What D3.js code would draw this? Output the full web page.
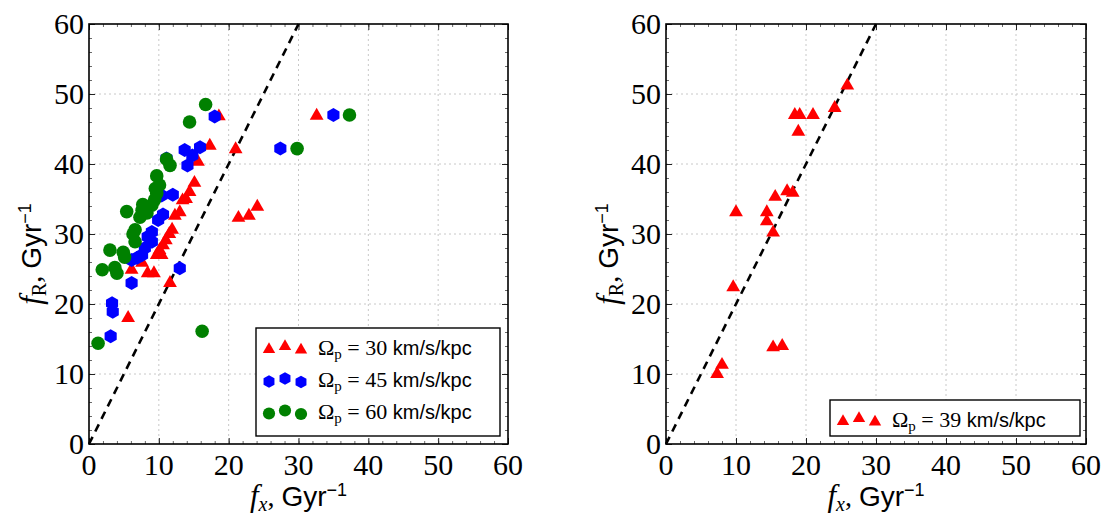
<!DOCTYPE html>
<html>
<head>
<meta charset="utf-8">
<script src="https://cdn.jsdelivr.net/npm/d3@7"></script>
<style>
  body { margin: 0; background: #fff; }
  svg { display: block; }
  .serif { font-family: "Liberation Serif", "DejaVu Serif", serif; }
  .sans { font-family: "Liberation Sans", "DejaVu Sans", sans-serif; }
</style>
</head>
<body>
<div id="root"></div>
<script>
// left panel: three pattern speeds, [f_x, f_R]
const omega30 = [
  [32.6, 46.9], [18.6, 46.8], [21.0, 42.1], [17.3, 42.6], [15.6, 40.3],
  [21.4, 32.3], [22.9, 32.6], [24.1, 33.9], [15.1, 37.3], [14.4, 36.0],
  [13.4, 34.8], [13.9, 35.0], [13.0, 33.1], [12.3, 32.6], [11.9, 30.6],
  [11.5, 30.0], [11.0, 29.1], [10.6, 28.4], [10.1, 27.7], [9.7, 27.0],
  [10.4, 27.0], [7.6, 25.9], [6.1, 24.9], [8.4, 24.4], [9.3, 24.4],
  [11.6, 23.0], [5.6, 18.0]
];
const omega45 = [
  [35.0, 47.0], [18.0, 46.8], [27.4, 42.2], [15.9, 42.4], [13.7, 42.0],
  [14.8, 41.2], [14.1, 39.8], [11.1, 40.8], [12.0, 35.6], [10.4, 35.5],
  [10.6, 32.8], [9.9, 32.0], [9.0, 30.3], [8.4, 29.6], [9.0, 28.9],
  [8.0, 28.0], [7.6, 27.0], [6.9, 26.6], [6.1, 26.3], [13.0, 25.1],
  [6.1, 23.0], [3.3, 20.1], [3.4, 18.9], [3.1, 15.4]
];
const omega60 = [
  [37.3, 47.0], [29.8, 42.2], [16.7, 48.5], [14.4, 46.0], [11.1, 40.7],
  [11.6, 39.8], [9.7, 38.3], [10.1, 37.0], [9.5, 36.5], [9.7, 35.8],
  [9.4, 34.9], [9.0, 34.1], [7.7, 34.2], [7.6, 33.4], [5.4, 33.2],
  [8.3, 33.0], [7.3, 32.4], [6.6, 30.6], [6.3, 30.0], [6.6, 28.9],
  [3.0, 27.7], [4.9, 27.4], [5.1, 26.7], [1.9, 24.9], [3.7, 25.2],
  [4.0, 24.4], [16.2, 16.1], [1.3, 14.4]
];
// right panel
const omega39 = [
  [25.9, 51.2], [24.1, 48.0], [18.4, 47.0], [19.1, 47.0], [21.0, 47.0],
  [18.9, 44.6], [10.0, 33.1], [14.4, 33.1], [14.4, 31.8], [15.3, 30.2],
  [15.6, 35.3], [17.3, 36.1], [18.1, 35.9], [9.6, 22.4], [8.0, 11.3],
  [7.3, 10.0], [15.3, 13.8], [16.6, 14.0]
];
// f_R = 2 f_x reference line
const refLine = [[0, 0], [30, 60]];
const ticks = [0, 10, 20, 30, 40, 50, 60];
const minorTicks = d3.range(0, 61, 2);

const w = 1104;
const h = 524;
const plotTop = 24, plotBottom = 444;

const svg = d3.select("#root")
  .append("svg")
  .attr("width", w)
  .attr("height", h);

svg.append("rect").attr("width", w).attr("height", h).attr("fill", "#fff");

function marker(kind) {
  if (kind === "tri") return d3.symbol().type(d3.symbolTriangle).size(82)();
  if (kind === "circ") return d3.symbol().type(d3.symbolCircle).size(145)();
  // hexagon, pointy top
  const r = 7;
  const pts = d3.range(6).map(i => {
    const a = Math.PI / 3 * i - Math.PI / 2;
    return [r * Math.cos(a), r * Math.sin(a)];
  });
  return "M" + pts.join("L") + "Z";
}

function addTitle(t, sub, subItalic) {
  t.append("tspan").attr("class", "serif").attr("font-style", "italic").attr("font-size", 31).text("f");
  t.append("tspan").attr("class", "serif").attr("font-style", subItalic ? "italic" : "normal")
    .attr("font-size", 20).attr("dy", 5).text(sub);
  t.append("tspan").attr("class", "serif").attr("dy", -5).text(", ");
  t.append("tspan").attr("class", "sans").text("Gyr");
  t.append("tspan").attr("class", "sans")
    .attr("font-size", 18).attr("dy", -10).text("\u22121");
}

function drawPanel(left, right, series, legend) {
  const x = d3.scaleLinear().domain([0, 60]).range([left, right]);
  const y = d3.scaleLinear().domain([0, 60]).range([plotBottom, plotTop]);
  const g = svg.append("g");

  // grid
  g.selectAll(".gx").data(ticks.slice(1, -1)).enter().append("line")
    .attr("x1", d => x(d)).attr("x2", d => x(d))
    .attr("y1", plotTop).attr("y2", plotBottom)
    .attr("stroke", "#c8c8c8").attr("stroke-dasharray", "2,3");
  g.selectAll(".gy").data(ticks.slice(1, -1)).enter().append("line")
    .attr("y1", d => y(d)).attr("y2", d => y(d))
    .attr("x1", left).attr("x2", right)
    .attr("stroke", "#c8c8c8").attr("stroke-dasharray", "2,3");

  // ticks on all four sides, pointing in
  const sides = (scaleX, scaleY, vals, len) => [
    [d3.axisBottom(scaleX), `translate(0,${plotBottom})`],
    [d3.axisTop(scaleX), `translate(0,${plotTop})`],
    [d3.axisLeft(scaleY), `translate(${left},0)`],
    [d3.axisRight(scaleY), `translate(${right},0)`]
  ].map(([ax, tr]) => [ax.tickValues(vals).tickSize(-len).tickFormat(""), tr]);

  sides(x, y, minorTicks, 3).concat(sides(x, y, ticks, 6)).forEach(([ax, tr], i) => {
    const a = g.append("g").attr("transform", tr).call(ax);
    a.select(".domain").remove();
    a.selectAll("line").attr("stroke", i < 4 ? "#444" : "#222").attr("stroke-width", i < 4 ? 0.8 : 1);
  });

  // tick labels
  g.selectAll(".xl").data(ticks).enter().append("text")
    .attr("class", "serif")
    .attr("x", d => x(d)).attr("y", plotBottom + 31)
    .attr("text-anchor", "middle").attr("font-size", 30)
    .text(d => d);
  g.selectAll(".yl").data(ticks).enter().append("text")
    .attr("class", "serif")
    .attr("x", left - 5).attr("y", d => y(d) + 10)
    .attr("text-anchor", "end").attr("font-size", 30)
    .text(d => d);

  // reference line
  g.append("path")
    .attr("d", d3.line().x(d => x(d[0])).y(d => y(d[1]))(refLine))
    .attr("stroke", "#000").attr("stroke-width", 2.6)
    .attr("stroke-dasharray", "8,6").attr("fill", "none");

  // points
  series.forEach(s => {
    g.selectAll(null).data(s.data).enter().append("path")
      .attr("d", marker(s.kind))
      .attr("transform", d => `translate(${x(d[0])},${y(d[1])})`)
      .attr("fill", s.color);
  });

  // frame
  g.append("rect")
    .attr("x", left).attr("y", plotTop)
    .attr("width", right - left).attr("height", plotBottom - plotTop)
    .attr("fill", "none").attr("stroke", "#000").attr("stroke-width", 1.6);

  // axis titles
  const xt = g.append("text")
    .attr("x", (left + right) / 2).attr("y", 506)
    .attr("text-anchor", "middle").attr("font-size", 28);
  addTitle(xt, "x", true);

  const yt = g.append("text")
    .attr("transform", `translate(${left - 48},${(plotTop + plotBottom) / 2 + 20}) rotate(-90)`)
    .attr("text-anchor", "middle").attr("font-size", 28);
  addTitle(yt, "R", false);

  // legend
  const lg = g.append("g");
  lg.append("rect")
    .attr("x", legend.x).attr("y", legend.y)
    .attr("width", legend.w).attr("height", legend.h)
    .attr("fill", "#fff").attr("stroke", "#000").attr("stroke-width", 1.4);
  const offs = [1.5, -1.5, 2];
  series.forEach((s, i) => {
    const cy = legend.y + 20 + i * 32;
    offs.forEach((o, j) => {
      lg.append("path")
        .attr("d", marker(s.kind))
        .attr("transform", `translate(${legend.x + 13 + j * 16},${cy + o}) scale(0.9)`)
        .attr("fill", s.color);
    });
    const t = lg.append("text")
      .attr("x", legend.x + 62).attr("y", cy + 7).attr("font-size", 22);
    t.append("tspan").attr("class", "serif").text("\u03a9");
    t.append("tspan").attr("class", "serif")
      .attr("font-size", 15).attr("dy", 4).text("p");
    t.append("tspan").attr("class", "serif")
      .attr("dy", -4).text(" = " + s.label + " ");
    t.append("tspan").attr("class", "sans").attr("font-size", 20).text("km/s/kpc");
  });
}

drawPanel(89, 508, [
  { data: omega30, kind: "tri", color: "#ff0000", label: "30" },
  { data: omega45, kind: "hex", color: "#0000ff", label: "45" },
  { data: omega60, kind: "circ", color: "#008000", label: "60" }
], { x: 256, y: 328, w: 244, h: 108 });

drawPanel(666, 1086, [
  { data: omega39, kind: "tri", color: "#ff0000", label: "39" }
], { x: 830, y: 400, w: 250, h: 36 });
</script>
</body>
</html>
